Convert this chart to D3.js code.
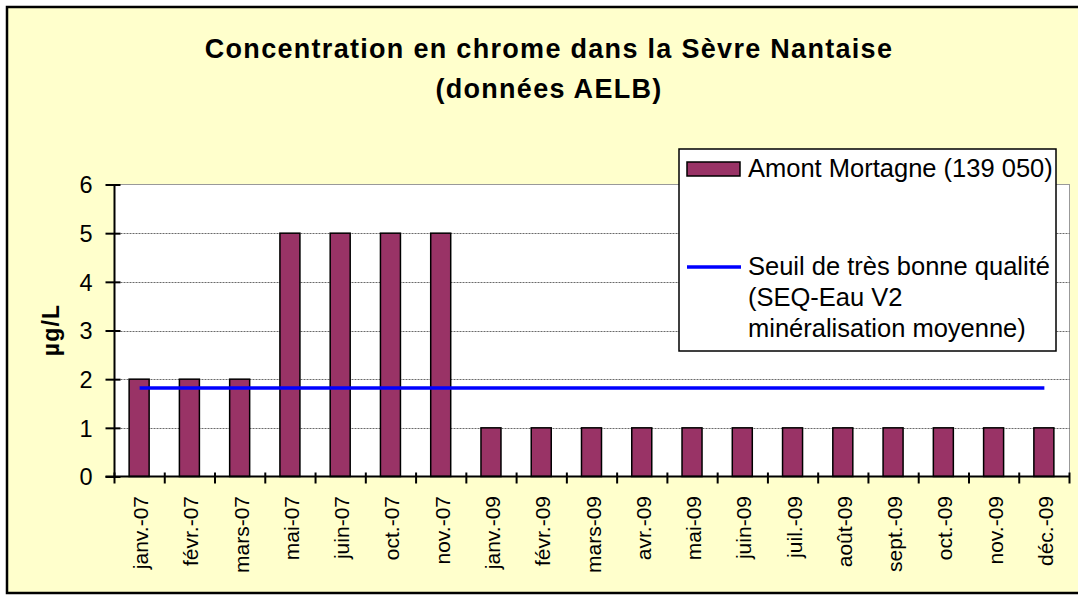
<!DOCTYPE html>
<html><head><meta charset="utf-8">
<script src="https://cdn.jsdelivr.net/npm/d3@7"></script>
<style>body{margin:0;background:#fff;}svg{display:block;font-family:"Liberation Sans",Arial,sans-serif;}</style>
</head><body>
<svg id="c" width="1078" height="595"></svg>
<script>
const categories = ["janv.-07","févr.-07","mars-07","mai-07","juin-07","oct.-07","nov.-07","janv.-09","févr.-09","mars-09","avr.-09","mai-09","juin-09","juil.-09","août-09","sept.-09","oct.-09","nov.-09","déc.-09"];
const amontMortagne = [2,2,2,5,5,5,5,1,1,1,1,1,1,1,1,1,1,1,1];
const seuil = [1.82,1.82,1.82,1.82,1.82,1.82,1.82,1.82,1.82,1.82,1.82,1.82,1.82,1.82,1.82,1.82,1.82,1.82,1.82];
const yTicks = [0,1,2,3,4,5,6];
const titleLines = ["Concentration en chrome dans la Sèvre Nantaise","(données AELB)"];
const seriesNames = ["Amont Mortagne (139 050)", ["Seuil de très bonne qualité","(SEQ-Eau V2","minéralisation moyenne)"]];

const FF = "Liberation Sans, Arial, sans-serif";
const svg = d3.select("#c");
svg.append("rect").attr("x",7).attr("y",7).attr("width",1090).attr("height",586)
  .attr("fill","#FFFFCC").attr("stroke","#000").attr("stroke-width",2.5);

const L=114.5, R=1069.5, T=184.5, B=476.5;
const x = d3.scaleBand().domain(categories).range([L,R]);
const y = d3.scaleLinear().domain([0,6]).range([B,T]);

svg.append("rect").attr("x",L).attr("y",T).attr("width",R-L).attr("height",B-T)
  .attr("fill","#fff").attr("stroke","#999").attr("stroke-width",1);

svg.append("g").selectAll("line").data(yTicks.filter(d=>d>0 && d<6)).join("line")
  .attr("x1",L).attr("x2",R).attr("y1",d=>Math.round(y(d))+0.5).attr("y2",d=>Math.round(y(d))+0.5)
  .attr("stroke","#444").attr("stroke-width",0.8).attr("stroke-dasharray","2,1");

svg.append("g").selectAll("rect").data(amontMortagne).join("rect")
  .attr("x",(d,i)=>x(categories[i])+x.bandwidth()/2-10.5)
  .attr("width",20).attr("y",d=>y(d)).attr("height",d=>B-y(d))
  .attr("fill","#993366").attr("stroke","#000").attr("stroke-width",1.5);

svg.append("path").datum(seuil)
  .attr("d",d3.line().x((d,i)=>x(categories[i])+x.bandwidth()/2).y(d=>y(d)))
  .attr("fill","none").attr("stroke","#0000FF").attr("stroke-width",3.5);

// y axis
const ya = svg.append("g").attr("transform",`translate(${L},0)`)
  .call(d3.axisLeft(y).tickValues(yTicks).tickFormat(d3.format("d")).tickSize(9).tickPadding(13));
ya.select(".domain").attr("stroke","#000").attr("stroke-width",2).attr("d",`M0,${T}V${B}`);
ya.selectAll(".tick line").attr("stroke","#000").attr("stroke-width",2).attr("x1",6);
ya.selectAll(".tick text").attr("fill","#000").attr("dy","0.36em")
  .style("font-size","23.5px").style("font-family",FF);

// x axis
const xa = svg.append("g").attr("transform",`translate(0,${B})`)
  .call(d3.axisBottom(x).tickSize(0).tickFormat(""));
xa.select(".domain").attr("stroke","#000").attr("stroke-width",2).attr("d",`M${L-9},0H${R}`);
const tickPos = categories.map(c=>x(c)).concat([R]);
xa.selectAll(".sep").data(tickPos).join("line").attr("class","sep")
  .attr("x1",d=>d).attr("x2",d=>d).attr("y1",-4).attr("y2",7).attr("stroke","#000").attr("stroke-width",2);
xa.selectAll(".lbl").data(categories).join("text").attr("class","lbl")
  .attr("transform",d=>`translate(${x(d)+x.bandwidth()/2+8.5},19.5) rotate(-90)`)
  .attr("text-anchor","end").style("font-size","21px").style("font-family",FF).attr("fill","#000").text(d=>d);

svg.append("text").attr("transform","translate(59,330) rotate(-90)").attr("text-anchor","middle")
  .attr("font-size",23).attr("letter-spacing",1.2).attr("font-weight","bold").text("µg/L");

svg.selectAll(".title").data(titleLines).join("text").attr("class","title")
  .attr("x",549).attr("y",(d,i)=>58+i*40).attr("text-anchor","middle")
  .attr("font-size",27).attr("letter-spacing",1.3).attr("font-weight","bold").text(d=>d);

// legend
const lg = svg.append("g");
lg.append("rect").attr("x",679).attr("y",149).attr("width",377).attr("height",202)
  .attr("fill","#fff").attr("stroke","#000").attr("stroke-width",1.5);
lg.append("rect").attr("x",687).attr("y",162).attr("width",53).attr("height",14)
  .attr("fill","#993366").attr("stroke","#000").attr("stroke-width",1.5);
lg.append("text").attr("x",748).attr("y",177).attr("font-size",25.5).text(seriesNames[0]);
lg.append("line").attr("x1",687).attr("x2",741).attr("y1",267).attr("y2",267)
  .attr("stroke","#0000FF").attr("stroke-width",3.5);
lg.selectAll(".l2").data(seriesNames[1]).join("text").attr("class","l2")
  .attr("x",748).attr("y",(d,i)=>275+i*31).attr("font-size",25.5).text(d=>d);
</script>
</body></html>
